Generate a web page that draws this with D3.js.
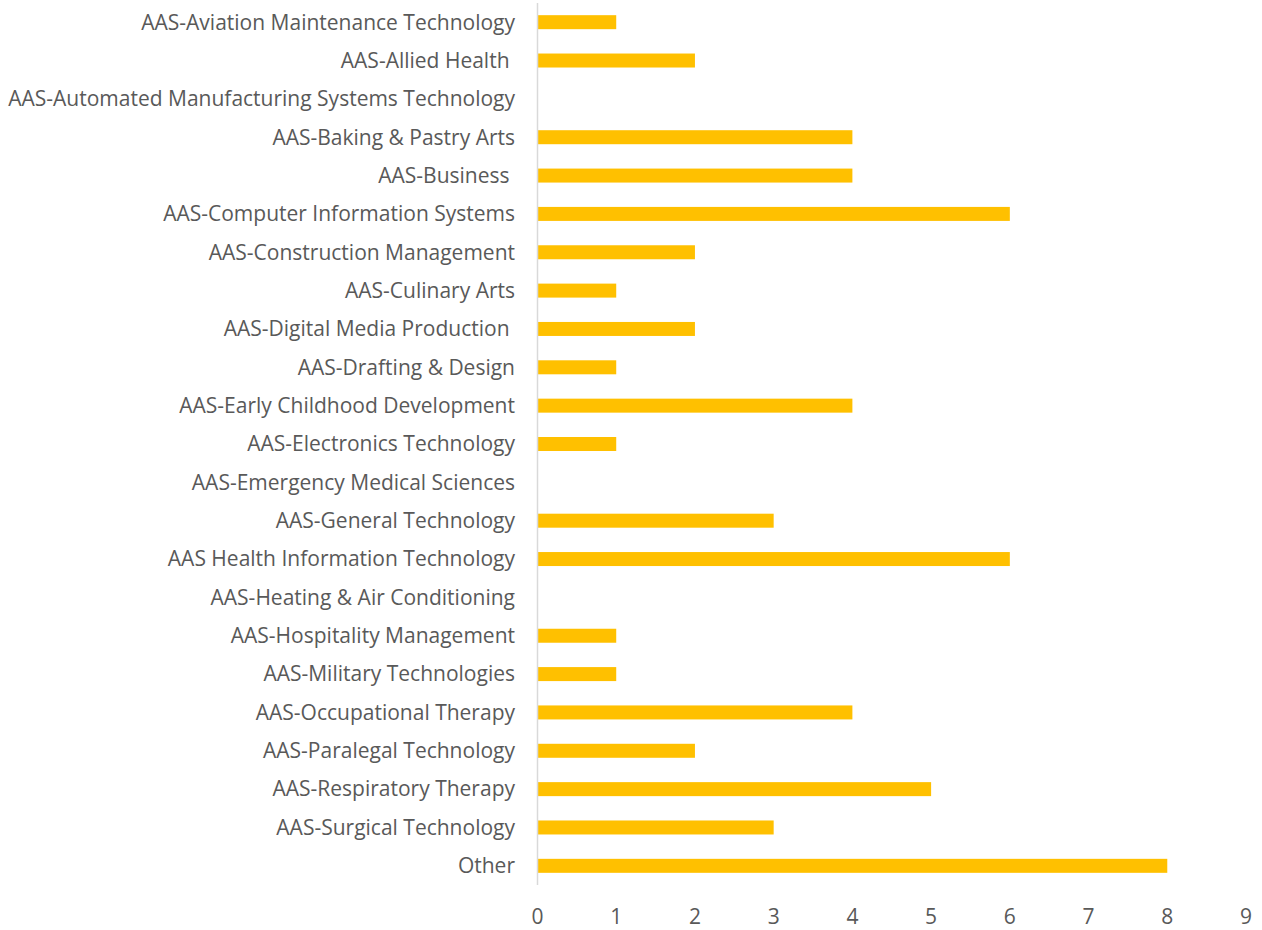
<!DOCTYPE html>
<html>
<head>
<meta charset="utf-8">
<script src="https://cdn.jsdelivr.net/npm/d3@7"></script>
<style>
  body{margin:0;background:#fff;}
  svg text{font-family:"Open Sans",Lato,sans-serif;fill:#595959;}
</style>
</head>
<body>
<svg id="chart" width="1262" height="930"></svg>
<script>
// categories, top to bottom
let programs=["AAS-Aviation Maintenance Technology","AAS-Allied Health ","AAS-Automated Manufacturing Systems Technology",
"AAS-Baking & Pastry Arts","AAS-Business ","AAS-Computer Information Systems","AAS-Construction Management",
"AAS-Culinary Arts","AAS-Digital Media Production ","AAS-Drafting & Design","AAS-Early Childhood Development",
"AAS-Electronics Technology","AAS-Emergency Medical Sciences","AAS-General Technology","AAS Health Information Technology",
"AAS-Heating & Air Conditioning","AAS-Hospitality Management","AAS-Military Technologies","AAS-Occupational Therapy",
"AAS-Paralegal Technology","AAS-Respiratory Therapy","AAS-Surgical Technology","Other"]
let counts=[1,2,0,4,4,6,2,1,2,1,4,1,0,3,6,0,1,1,4,2,5,3,8]
let xTicks=[0,1,2,3,4,5,6,7,8,9]

let svg=d3.select("#chart")
let x=d3.scaleLinear().domain([0,9]).range([537.5,1246])
let y=d3.scaleBand().domain(programs).range([3,885]).paddingInner(0.635).paddingOuter(0.3175)

// bars
svg.append("g").selectAll("rect").data(programs).join("rect")
  .attr("x",x(0))
  .attr("y",d=>y(d))
  .attr("width",(d,i)=>x(counts[i])-x(0))
  .attr("height",y.bandwidth())
  .attr("fill","#FFC000")

// vertical axis line
svg.append("line").attr("x1",x(0)).attr("x2",x(0)).attr("y1",3).attr("y2",885)
  .attr("stroke","#d9d9d9").attr("stroke-width",1.5)

// category labels
svg.append("g").selectAll("text").data(programs).join("text")
  .attr("x",515)
  .attr("y",d=>y(d)+y.bandwidth()/2)
  .attr("dy","0.35em")
  .attr("text-anchor","end")
  .style("font-size","21px")
  .style("white-space","pre")
  .text(d=>d)

// x tick labels
svg.append("g").selectAll("text").data(xTicks).join("text")
  .attr("x",d=>x(d))
  .attr("y",917)
  .attr("dy","0.35em")
  .attr("text-anchor","middle")
  .style("font-size","21px")
  .text(d=>d)
</script>
</body>
</html>
